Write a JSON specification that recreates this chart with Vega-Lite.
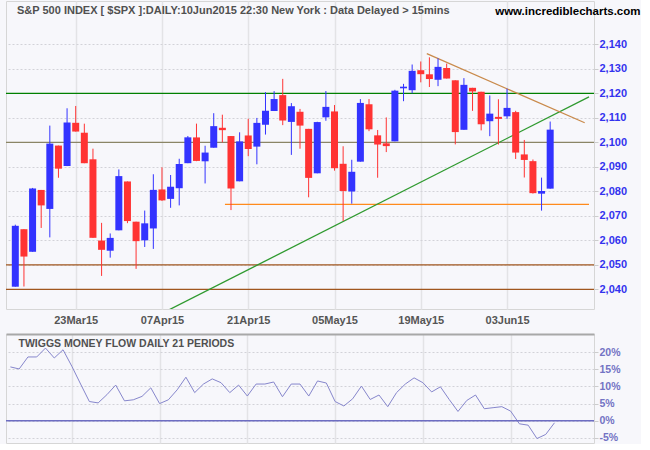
{
  "$schema": "https://vega.github.io/schema/vega-lite/v6.json",
  "background": "#f7f7fb",
  "padding": {"left": 4, "top": 0, "right": 0, "bottom": 0},
  "autosize": {"type": "pad"},
  "bounds": "flush",
  "spacing": 25,
  "config": {
    "view": {"stroke": "#d6d6d6", "fill": "#f7f7fb"},
    "axis": {"labelFont": "Liberation Sans", "labelFontWeight": "bold", "titleFont": "Liberation Sans", "titleFontWeight": "bold", "labelOverlap": false}
  },
  "datasets": {
    "spx": [
      {"i": 0, "date": "2015-03-12", "open": 2041.10, "high": 2066.41, "low": 2041.10, "close": 2065.95, "tmf": 15.7},
      {"i": 1, "date": "2015-03-13", "open": 2064.56, "high": 2064.56, "low": 2041.17, "close": 2053.40, "tmf": 15.1},
      {"i": 2, "date": "2015-03-16", "open": 2055.35, "high": 2081.41, "low": 2055.35, "close": 2081.19, "tmf": 18.6},
      {"i": 3, "date": "2015-03-17", "open": 2080.59, "high": 2080.59, "low": 2065.08, "close": 2074.28, "tmf": 18.6},
      {"i": 4, "date": "2015-03-18", "open": 2072.84, "high": 2106.85, "low": 2061.23, "close": 2099.50, "tmf": 21.2},
      {"i": 5, "date": "2015-03-19", "open": 2098.69, "high": 2098.69, "low": 2085.56, "close": 2089.27, "tmf": 18.3},
      {"i": 6, "date": "2015-03-20", "open": 2090.32, "high": 2113.92, "low": 2090.32, "close": 2108.10, "tmf": 20.7},
      {"i": 7, "date": "2015-03-23", "open": 2107.99, "high": 2114.86, "low": 2104.42, "close": 2104.42, "tmf": 15.9},
      {"i": 8, "date": "2015-03-24", "open": 2103.94, "high": 2107.63, "low": 2091.50, "close": 2091.50, "tmf": 10.7},
      {"i": 9, "date": "2015-03-25", "open": 2093.10, "high": 2097.43, "low": 2061.05, "close": 2061.05, "tmf": 5.6},
      {"i": 10, "date": "2015-03-26", "open": 2059.94, "high": 2067.15, "low": 2045.50, "close": 2056.15, "tmf": 5.2},
      {"i": 11, "date": "2015-03-27", "open": 2055.78, "high": 2062.83, "low": 2052.96, "close": 2061.02, "tmf": 7.6},
      {"i": 12, "date": "2015-03-30", "open": 2064.11, "high": 2088.97, "low": 2064.11, "close": 2086.24, "tmf": 10.4},
      {"i": 13, "date": "2015-03-31", "open": 2084.05, "high": 2084.05, "low": 2067.04, "close": 2067.89, "tmf": 5.8},
      {"i": 14, "date": "2015-04-01", "open": 2067.63, "high": 2067.63, "low": 2048.38, "close": 2059.69, "tmf": 6.1},
      {"i": 15, "date": "2015-04-02", "open": 2060.03, "high": 2072.17, "low": 2057.32, "close": 2066.96, "tmf": 7.1},
      {"i": 16, "date": "2015-04-06", "open": 2064.87, "high": 2086.99, "low": 2056.52, "close": 2080.62, "tmf": 9.6},
      {"i": 17, "date": "2015-04-07", "open": 2080.79, "high": 2089.81, "low": 2076.10, "close": 2076.33, "tmf": 5.0},
      {"i": 18, "date": "2015-04-08", "open": 2076.94, "high": 2086.69, "low": 2073.30, "close": 2081.90, "tmf": 6.1},
      {"i": 19, "date": "2015-04-09", "open": 2081.29, "high": 2093.31, "low": 2074.29, "close": 2091.18, "tmf": 9.0},
      {"i": 20, "date": "2015-04-10", "open": 2091.51, "high": 2102.61, "low": 2091.51, "close": 2102.06, "tmf": 12.7},
      {"i": 21, "date": "2015-04-13", "open": 2102.03, "high": 2107.65, "low": 2092.33, "close": 2092.43, "tmf": 8.2},
      {"i": 22, "date": "2015-04-14", "open": 2092.28, "high": 2098.62, "low": 2083.24, "close": 2095.84, "tmf": 10.7},
      {"i": 23, "date": "2015-04-15", "open": 2097.82, "high": 2111.91, "low": 2097.82, "close": 2106.63, "tmf": 12.2},
      {"i": 24, "date": "2015-04-16", "open": 2105.96, "high": 2111.30, "low": 2100.02, "close": 2104.99, "tmf": 11.1},
      {"i": 25, "date": "2015-04-17", "open": 2102.58, "high": 2102.58, "low": 2072.37, "close": 2081.18, "tmf": 8.2},
      {"i": 26, "date": "2015-04-20", "open": 2084.11, "high": 2104.11, "low": 2084.11, "close": 2100.40, "tmf": 10.4},
      {"i": 27, "date": "2015-04-21", "open": 2102.82, "high": 2109.64, "low": 2094.38, "close": 2097.29, "tmf": 7.2},
      {"i": 28, "date": "2015-04-22", "open": 2098.27, "high": 2109.98, "low": 2091.05, "close": 2107.96, "tmf": 10.7},
      {"i": 29, "date": "2015-04-23", "open": 2107.21, "high": 2120.49, "low": 2103.19, "close": 2112.93, "tmf": 10.7},
      {"i": 30, "date": "2015-04-24", "open": 2112.80, "high": 2120.92, "low": 2112.80, "close": 2117.69, "tmf": 11.3},
      {"i": 31, "date": "2015-04-27", "open": 2119.29, "high": 2125.92, "low": 2107.04, "close": 2108.92, "tmf": 7.0},
      {"i": 32, "date": "2015-04-28", "open": 2108.35, "high": 2116.04, "low": 2094.89, "close": 2114.76, "tmf": 10.7},
      {"i": 33, "date": "2015-04-29", "open": 2112.49, "high": 2113.65, "low": 2097.41, "close": 2106.85, "tmf": 10.7},
      {"i": 34, "date": "2015-04-30", "open": 2105.52, "high": 2105.52, "low": 2077.59, "close": 2085.51, "tmf": 7.2},
      {"i": 35, "date": "2015-05-01", "open": 2087.38, "high": 2108.41, "low": 2087.38, "close": 2108.29, "tmf": 11.6},
      {"i": 36, "date": "2015-05-04", "open": 2110.23, "high": 2120.95, "low": 2108.81, "close": 2114.49, "tmf": 11.0},
      {"i": 37, "date": "2015-05-05", "open": 2112.63, "high": 2115.24, "low": 2088.46, "close": 2089.46, "tmf": 5.6},
      {"i": 38, "date": "2015-05-06", "open": 2091.26, "high": 2098.42, "low": 2067.93, "close": 2080.15, "tmf": 4.3},
      {"i": 39, "date": "2015-05-07", "open": 2079.96, "high": 2092.90, "low": 2074.99, "close": 2088.00, "tmf": 6.4},
      {"i": 40, "date": "2015-05-08", "open": 2092.13, "high": 2117.66, "low": 2092.13, "close": 2116.10, "tmf": 10.1},
      {"i": 41, "date": "2015-05-11", "open": 2115.56, "high": 2117.69, "low": 2104.58, "close": 2105.33, "tmf": 6.2},
      {"i": 42, "date": "2015-05-12", "open": 2102.87, "high": 2105.06, "low": 2085.57, "close": 2099.12, "tmf": 7.5},
      {"i": 43, "date": "2015-05-13", "open": 2099.62, "high": 2110.19, "low": 2096.04, "close": 2098.48, "tmf": 4.1},
      {"i": 44, "date": "2015-05-14", "open": 2100.43, "high": 2121.45, "low": 2100.43, "close": 2121.10, "tmf": 8.2},
      {"i": 45, "date": "2015-05-15", "open": 2122.07, "high": 2123.89, "low": 2116.81, "close": 2122.73, "tmf": 10.7},
      {"i": 46, "date": "2015-05-18", "open": 2121.30, "high": 2131.78, "low": 2120.01, "close": 2129.20, "tmf": 12.5},
      {"i": 47, "date": "2015-05-19", "open": 2129.45, "high": 2133.02, "low": 2124.50, "close": 2127.83, "tmf": 11.1},
      {"i": 48, "date": "2015-05-20", "open": 2127.79, "high": 2134.72, "low": 2122.59, "close": 2125.85, "tmf": 8.4},
      {"i": 49, "date": "2015-05-21", "open": 2125.55, "high": 2134.28, "low": 2122.95, "close": 2130.82, "tmf": 9.9},
      {"i": 50, "date": "2015-05-22", "open": 2130.36, "high": 2132.15, "low": 2126.06, "close": 2126.06, "tmf": 6.2},
      {"i": 51, "date": "2015-05-26", "open": 2125.34, "high": 2125.34, "low": 2099.18, "close": 2104.20, "tmf": 2.7},
      {"i": 52, "date": "2015-05-27", "open": 2105.13, "high": 2126.22, "low": 2105.13, "close": 2123.48, "tmf": 5.9},
      {"i": 53, "date": "2015-05-28", "open": 2122.27, "high": 2122.27, "low": 2112.86, "close": 2120.79, "tmf": 7.5},
      {"i": 54, "date": "2015-05-29", "open": 2120.66, "high": 2120.66, "low": 2104.89, "close": 2107.39, "tmf": 3.5},
      {"i": 55, "date": "2015-06-01", "open": 2108.64, "high": 2119.15, "low": 2102.54, "close": 2111.73, "tmf": 3.8},
      {"i": 56, "date": "2015-06-02", "open": 2110.41, "high": 2117.59, "low": 2099.14, "close": 2109.60, "tmf": 4.1},
      {"i": 57, "date": "2015-06-03", "open": 2110.64, "high": 2121.92, "low": 2109.61, "close": 2114.07, "tmf": 2.8},
      {"i": 58, "date": "2015-06-04", "open": 2112.35, "high": 2112.89, "low": 2093.23, "close": 2095.84, "tmf": -0.9},
      {"i": 59, "date": "2015-06-05", "open": 2095.09, "high": 2100.99, "low": 2085.67, "close": 2092.83, "tmf": -1.3},
      {"i": 60, "date": "2015-06-08", "open": 2092.34, "high": 2093.01, "low": 2079.11, "close": 2079.28, "tmf": -5.2},
      {"i": 61, "date": "2015-06-09", "open": 2079.07, "high": 2085.62, "low": 2072.14, "close": 2080.15, "tmf": -4.0},
      {"i": 62, "date": "2015-06-10", "open": 2081.12, "high": 2108.50, "low": 2081.12, "close": 2105.20, "tmf": -0.6}
    ]
  },
  "vconcat": [
    {
      "width": 588,
      "height": 308,
      "layer": [
        {
          "data": {"name": "spx"},
          "mark": {"type": "bar", "size": 7, "opacity": 0},
          "encoding": {
            "x": {
              "field": "i", "type": "quantitative",
              "scale": {"domain": [-0.5, 66.5], "nice": false, "zero": false},
              "axis": {
                "orient": "bottom", "values": [7, 17, 27, 37, 47, 57], "tickCount": 20,
                "title": "S&P 500 INDEX [ $SPX ]:DAILY:10Jun2015 22:30 New York : Data Delayed > 15mins",
                "titleX": 10.5, "titleY": -295.7, "titleAlign": "left", "titleAnchor": null,
                "titleBaseline": "alphabetic", "titleAngle": 0,
                "titleFontSize": 11, "titleColor": "#505050",
                "labelExpr": "['23Mar15','07Apr15','21Apr15','05May15','19May15','03Jun15'][round((datum.value - 7) / 10)]",
                "grid": true, "gridColor": "#e3e3e6", "gridWidth": 1.5,
                "domain": false, "ticks": false, "labelPadding": 5, "labelBaseline": "top",
                "labelFontSize": 11, "labelColor": "#555555", "labelFlush": false
              }
            },
            "y": {
              "field": "open", "type": "quantitative",
              "scale": {"domain": [2032, 2157.7], "nice": false, "zero": false},
              "axis": {
                "orient": "right", "values": [2040, 2050, 2060, 2070, 2080, 2090, 2100, 2110, 2120, 2130, 2140], "tickCount": 20,
                "title": "www.incrediblecharts.com",
                "titleX": 46, "titleY": 13.3, "titleAlign": "right", "titleAnchor": null,
                "titleBaseline": "alphabetic", "titleAngle": 0,
                "titleFontSize": 11.5, "titleColor": "#000000",
                "format": ",d", "grid": true, "gridColor": "#d2d2d8", "gridDash": [2, 2], "gridWidth": 1,
                "domain": false, "ticks": true, "tickSize": 4, "tickColor": "#cccccc", "tickWidth": 1,
                "labelPadding": 1, "labelFontSize": 11, "labelColor": "#3333ee"
              }
            },
            "y2": {"field": "close"}
          }
        },
        {
          "data": {"values": [{"level": 2100}]},
          "mark": {"type": "rule", "color": "#8a8566", "strokeWidth": 1.2},
          "encoding": {"y": {"field": "level", "type": "quantitative"}}
        },
        {
          "data": {"values": [{"level": 2120}]},
          "mark": {"type": "rule", "color": "#008000", "strokeWidth": 1.3},
          "encoding": {"y": {"field": "level", "type": "quantitative"}}
        },
        {
          "data": {"values": [{"level": 2050}, {"level": 2040}]},
          "mark": {"type": "rule", "color": "#a0561e", "strokeWidth": 1.3},
          "encoding": {"y": {"field": "level", "type": "quantitative"}}
        },
        {
          "data": {"values": [{"start": 24.3, "end": 66.5, "level": 2074.7}]},
          "mark": {"type": "rule", "color": "#ff8a1c", "strokeWidth": 1.2},
          "encoding": {
            "x": {"field": "start", "type": "quantitative"},
            "x2": {"field": "end"},
            "y": {"field": "level", "type": "quantitative"}
          }
        },
        {
          "data": {"values": [{"t": 17.5, "v": 2031.1}, {"t": 66.5, "v": 2118.6}]},
          "mark": {"type": "line", "color": "#2f9a2f", "strokeWidth": 1.3, "clip": true},
          "encoding": {
            "x": {"field": "t", "type": "quantitative"},
            "y": {"field": "v", "type": "quantitative"}
          }
        },
        {
          "data": {"values": [{"t": 47.7, "v": 2136.2}, {"t": 66.0, "v": 2108.0}]},
          "mark": {"type": "line", "color": "#c98a4b", "strokeWidth": 1.3},
          "encoding": {
            "x": {"field": "t", "type": "quantitative"},
            "y": {"field": "v", "type": "quantitative"}
          }
        },
        {
          "data": {"name": "spx"},
          "mark": {"type": "rule", "strokeWidth": 1},
          "encoding": {
            "x": {"field": "i", "type": "quantitative"},
            "y": {"field": "low", "type": "quantitative"},
            "y2": {"field": "high"},
            "color": {"condition": {"test": "datum.close >= datum.open", "value": "#3333ff"}, "value": "#ff3333"}
          }
        },
        {
          "data": {"name": "spx"},
          "mark": {"type": "bar", "size": 7},
          "encoding": {
            "x": {"field": "i", "type": "quantitative"},
            "y": {"field": "open", "type": "quantitative"},
            "y2": {"field": "close"},
            "color": {"condition": {"test": "datum.close >= datum.open", "value": "#3333ff"}, "value": "#ff3333"}
          }
        }
      ]
    },
    {
      "width": 588,
      "height": 109,
      "layer": [
        {
          "data": {"name": "spx"},
          "mark": {"type": "line", "color": "#8686cc", "strokeWidth": 1},
          "encoding": {
            "x": {
              "field": "i", "type": "quantitative",
              "scale": {"domain": [-0.5, 66.5], "nice": false, "zero": false},
              "axis": {
                "orient": "top", "values": [7, 17, 27, 37, 47, 57], "tickCount": 20, "title": null,
                "labels": false, "ticks": false, "grid": true, "gridColor": "#e3e3e6", "gridWidth": 1.5,
                "domain": true, "domainColor": "#a8a8a8", "domainWidth": 2
              }
            },
            "y": {
              "field": "tmf", "type": "quantitative",
              "scale": {"domain": [-6.5, 25.3], "nice": false, "zero": false},
              "axis": {
                "orient": "right", "values": [-5, 0, 5, 10, 15, 20], "tickCount": 20,
                "title": "TWIGGS MONEY FLOW DAILY 21 PERIODS",
                "titleX": -576, "titleY": 12.2, "titleAlign": "left", "titleAnchor": null,
                "titleBaseline": "alphabetic", "titleAngle": 0,
                "titleFontSize": 10.5, "titleColor": "#505050",
                "labelExpr": "datum.value + '%'", "grid": true, "gridColor": "#d2d2d8", "gridDash": [2, 2],
                "domain": false, "ticks": true, "tickSize": 4, "tickColor": "#cccccc",
                "labelPadding": 1, "labelFontSize": 10.5, "labelColor": "#7373c4"
              }
            }
          }
        },
        {
          "data": {"values": [{"zero": 0}]},
          "mark": {"type": "rule", "color": "#6d6dc2", "strokeWidth": 1.5},
          "encoding": {"y": {"field": "zero", "type": "quantitative"}}
        }
      ]
    }
  ]
}
